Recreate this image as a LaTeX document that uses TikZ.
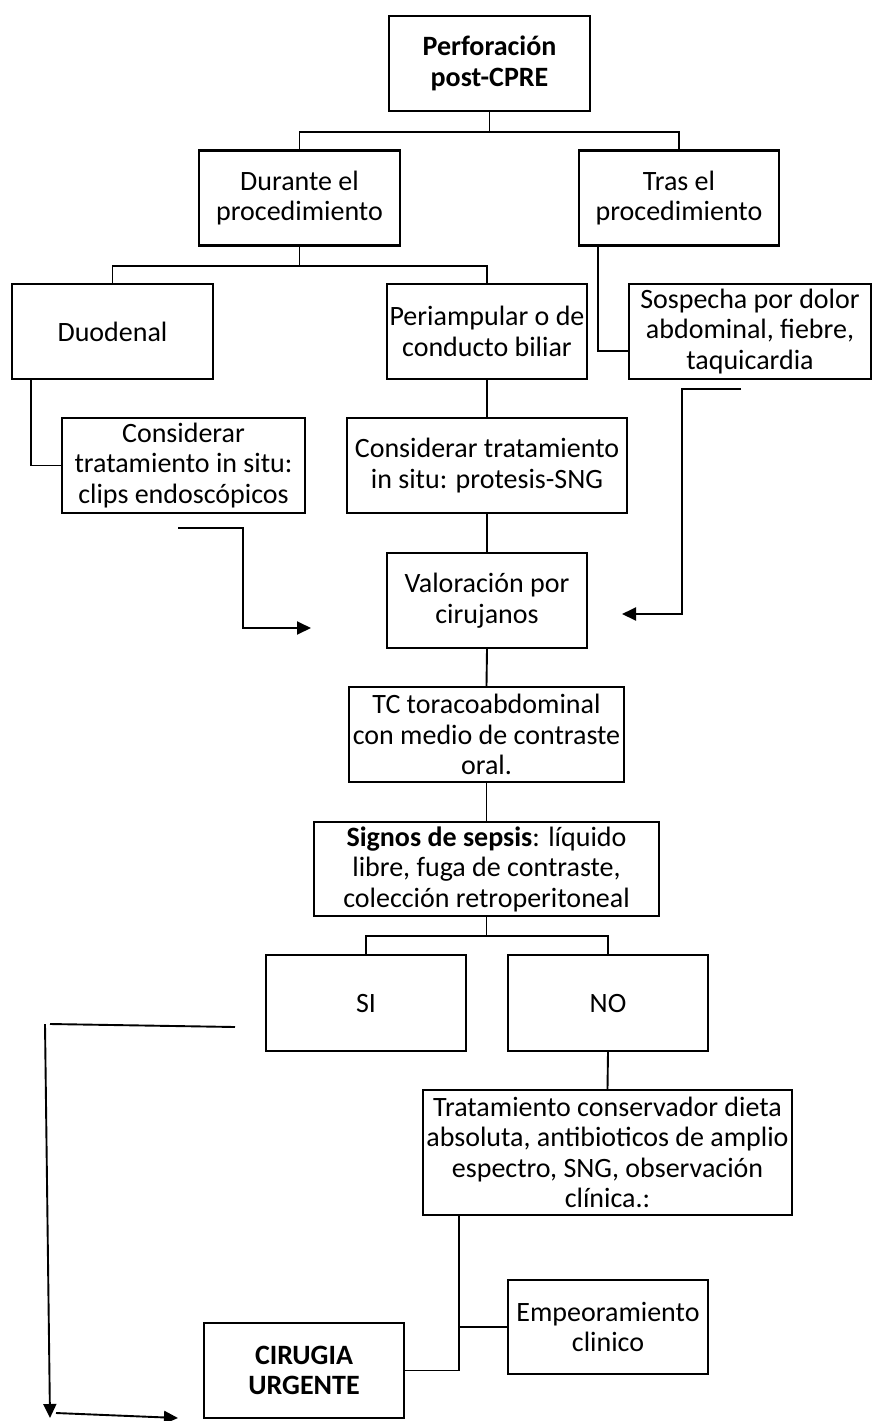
\documentclass[tikz,border=0pt]{standalone}
\usepackage{fontspec}
\setmainfont{Carlito}
\usetikzlibrary{arrows.meta}

\begin{document}
\begin{tikzpicture}[x=1pt, y=-1pt,
		caja/.style={draw, line width=2.3pt, align=center, inner sep=0pt, minimum height=95pt, font=\fontsize{28}{30.5}\selectfont},
		linea/.style={line width=1.9pt},
		flecha/.style={line width=1.9pt, -{Triangle[length=14pt, width=13pt]}}]
		\useasboundingbox (0,0) rectangle (872,1421);

		% cajas
		\node [caja, minimum width=201pt] (perf) at (489.5,63.5) {\textbf{Perforación}\\\textbf{post-CPRE}};
		\node [caja, minimum width=201pt] (durante) at (299.5,198) {Durante el\\procedimiento};
		\node [caja, minimum width=200pt] (tras) at (679,198) {Tras el\\procedimiento};
		\node [caja, minimum width=201pt] (duod) at (112.5,331.5) {Duodenal};
		\node [caja, minimum width=200pt] (peri) at (487,331.5) {Periampular o de\\conducto biliar};
		\node [caja, minimum width=242pt] (sosp) at (750,331.5) {Sospecha por dolor\\abdominal, fiebre,\\taquicardia};
		\node [caja, minimum width=243pt] (clips) at (183.5,465.5) {Considerar\\tratamiento in situ:\\clips endoscópicos};
		\node [caja, minimum width=280pt] (prot) at (487,465.5) {Considerar tratamiento\\in situ: protesis-SNG};
		\node [caja, minimum width=200pt] (valor) at (487,600.5) {Valoración por\\cirujanos};
		\node [caja, minimum width=275pt] (tc) at (486.5,734.5) {TC toracoabdominal\\con medio de contraste\\oral.};
		\node [caja, minimum width=345pt, minimum height=94pt] (sepsis) at (486.5,869) {\textbf{Signos de sepsis}: líquido\\libre, fuga de contraste,\\colección retroperitoneal};
		\node [caja, minimum width=200pt, minimum height=96pt] (si) at (366,1003) {SI};
		\node [caja, minimum width=200pt, minimum height=96pt] (no) at (608,1003) {NO};
		\node [caja, minimum width=369pt, minimum height=125pt] (conserv) at (607.5,1152.5) {Tratamiento conservador dieta\\absoluta, antibioticos de amplio\\espectro, SNG, observación\\clínica.:};
		\node [caja, minimum width=200pt, minimum height=94pt] (empeor) at (608,1327) {Empeoramiento\\clinico};
		\node [caja, minimum width=200pt] (cirugia) at (304,1370.5) {\textbf{CIRUGIA}\\\textbf{URGENTE}};

		% conexiones
		\draw [linea] (perf.south) -- ++(0,20) -| (durante.north);
		\draw [linea] (perf.south) -- ++(0,20) -| (tras.north);
		\draw [linea] (durante.south) -- ++(0,19) -| (duod.north);
		\draw [linea] (durante.south) -- ++(0,19) -| (peri.north);
		\draw [linea] ([xshift=20pt]tras.south west) |- ([yshift=-19.5pt]sosp.west);
		\draw [linea] ([xshift=20pt]duod.south west) |- (clips.west);
		\draw [linea] (peri.south) -- (prot.north);
		\draw [linea] (prot.south) -- (valor.north);
		\draw [linea] (valor.south) -- (tc.north);
		\draw [linea] (tc.south) -- (sepsis.north);
		\draw [linea] (sepsis.south) -- ++(0,19) -| (si.north);
		\draw [linea] (sepsis.south) -- ++(0,19) -| (no.north);
		\draw [linea] (no.south) -- (conserv.north);
		\draw [linea] ([xshift=37pt]conserv.south west) coordinate (cbase) |- (cirugia.east);
		\draw [linea] (empeor.west) -- (empeor.west -| cbase);

		% flechas sueltas
		\coordinate (izq) at (178,528);
		\coordinate (izqfin) at (311,628);
		\draw [flecha] (izq) -| (243,628) -- (izqfin);
		\coordinate (der) at (741,389);
		\coordinate (derfin) at (622,614);
		\draw [flecha] (der) -| (682,614) -- (derfin);
		\coordinate (si1) at (235,1027);
		\coordinate (si2) at (50,1024);
		\coordinate (si3) at (50,1418);
		\coordinate (si4) at (178,1418);
		\draw [linea] (si1) -- (si2);
		\draw [flecha] (45,1024) -- (si3);
		\draw [flecha] (56,1413) -- (si4);
	\end{tikzpicture}
\end{document}
